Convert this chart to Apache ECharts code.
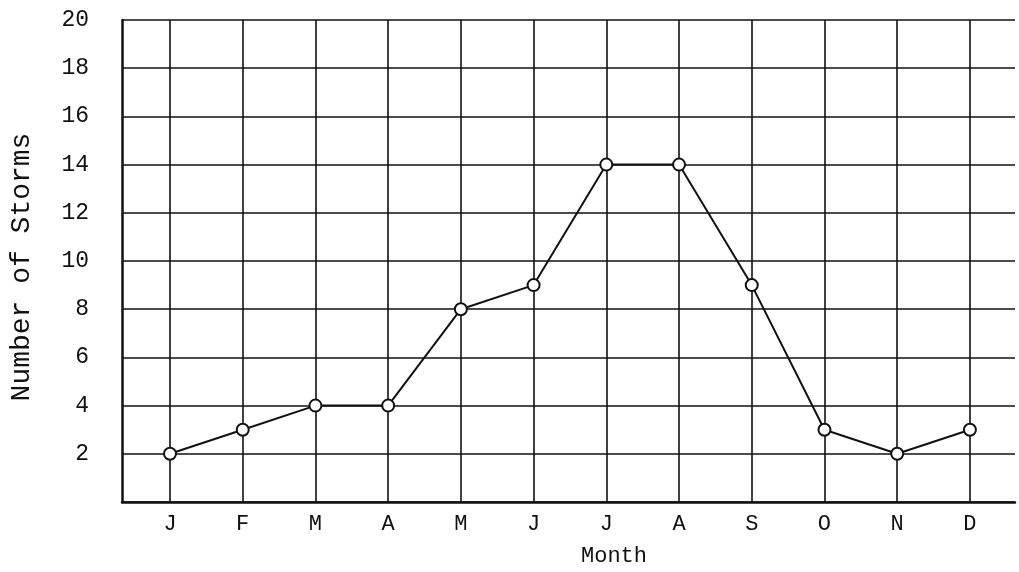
<!DOCTYPE html>
<html>
<head>
<meta charset="utf-8">
<script src="https://cdn.jsdelivr.net/npm/echarts@6/dist/echarts.min.js"></script>
<style>
  html, body { margin: 0; padding: 0; background: #fff; }
  #chart { width: 1019px; height: 572px; }
</style>
</head>
<body>
<div id="chart"></div>
<script>
// Monthly storm counts
const months = ['J', 'F', 'M', 'A', 'M', 'J', 'J', 'A', 'S', 'O', 'N', 'D'];
const storms = [2, 3, 4, 4, 8, 9, 14, 14, 9, 3, 2, 3];
const yTicks = [0, 2, 4, 6, 8, 10, 12, 14, 16, 18, 20];

const FONT = '"Liberation Mono", "DejaVu Sans Mono", monospace';
const INK = '#111';

// month slots are numbered 1..12 on a value axis
const slots = months.map((m, i) => i + 1);
const points = storms.map((v, i) => [slots[i], v]);

const chart = echarts.init(document.getElementById('chart'), null, { renderer: 'canvas' });
chart.setOption({
  backgroundColor: '#fff',
  animation: false,
  grid: { left: 122, right: 4, top: 20, bottom: 69, containLabel: false },
  xAxis: {
    type: 'value',
    min: 0.34,
    max: 12.62,
    name: 'Month',
    nameLocation: 'middle',
    nameGap: 43,
    nameTextStyle: { fontFamily: FONT, fontSize: 22, color: INK, padding: [0, 0, 0, 91] },
    axisLine: { show: true, lineStyle: { color: INK, width: 2.5 } },
    axisTick: { show: false },
    splitLine: { show: false },
    axisLabel: {
      customValues: slots,
      margin: 11,
      fontFamily: FONT,
      fontSize: 22,
      color: INK,
      formatter: v => months[Math.round(v) - 1] || ''
    }
  },
  yAxis: {
    type: 'value',
    min: yTicks[0],
    max: yTicks[yTicks.length - 1],
    interval: 2,
    name: 'Number of Storms',
    nameLocation: 'middle',
    nameGap: 86,
    nameTextStyle: { fontFamily: FONT, fontSize: 28, color: INK, padding: [0, 12, 0, 0] },
    axisLine: { show: true, lineStyle: { color: INK, width: 2.5 } },
    axisTick: { show: false },
    splitLine: { show: true, lineStyle: { color: INK, width: 1.6 } },
    axisLabel: {
      margin: 33,
      fontFamily: FONT,
      fontSize: 23,
      color: INK,
      formatter: v => (v === 0 ? '' : String(v))
    }
  },
  series: [{
    type: 'line',
    data: points,
    symbol: 'emptyCircle',
    symbolSize: 12,
    lineStyle: { color: INK, width: 2 },
    itemStyle: { color: INK, borderColor: INK, borderWidth: 2 },
    z: 5,
    markLine: {
      silent: true,
      symbol: ['none', 'none'],
      label: { show: false },
      lineStyle: { color: INK, width: 1.6, type: 'solid' },
      z: 1,
      data: slots.map(s => ({ xAxis: s }))
    }
  }]
});
</script>
</body>
</html>
